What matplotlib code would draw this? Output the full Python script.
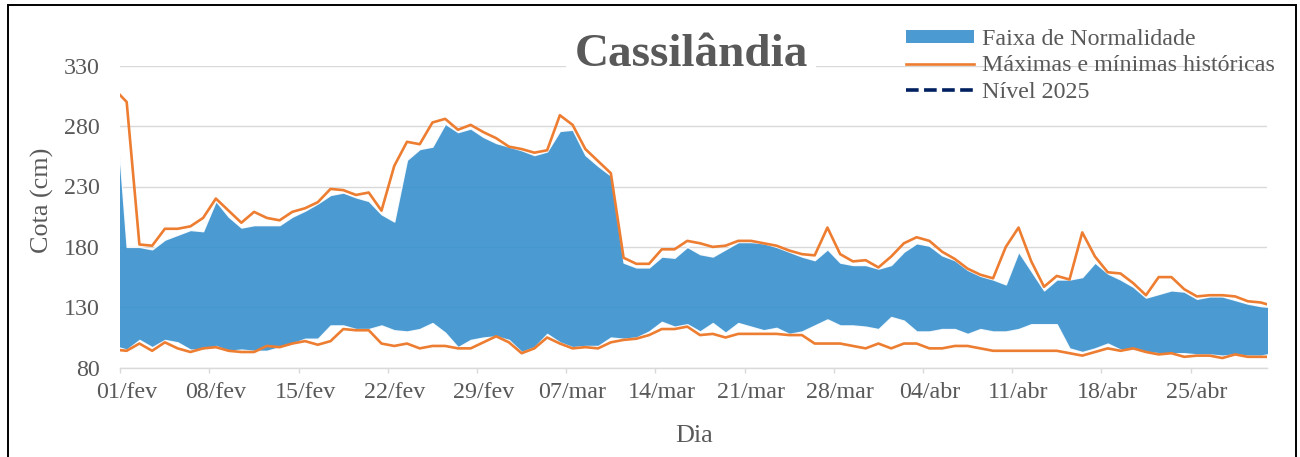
import matplotlib
matplotlib.use("Agg")
import matplotlib.pyplot as plt
from matplotlib.patches import Patch, Rectangle
from matplotlib.lines import Line2D
import numpy as np
import pandas as pd

plt.rcParams['font.family'] = ['Liberation Serif', 'DejaVu Serif']

# ---- data (31/jan .. 01/mai, 2024; axis shows 01/fev .. 30/abr) ----
dates = pd.date_range("2024-01-31", "2024-05-01", freq="D")

max_hist = [311,
    300, 182, 181, 195, 195, 197, 204, 220, 210, 200, 209, 204, 202, 209, 212,
    217, 228, 227, 223, 225, 210, 247, 267, 265, 283, 286, 277, 281, 275, 270,
    263, 261, 258, 260, 289, 281, 261, 251, 241, 171, 166, 166, 178, 178, 185,
    183, 180, 181, 185, 185, 183, 181, 177, 174, 173, 196, 174, 168, 169, 163,
    172, 183, 188, 185, 176, 170, 162, 157, 154, 180, 196, 168, 147, 156, 153,
    192, 172, 159, 158, 150, 140, 155, 155, 145, 139, 140, 140, 139, 135, 134,
    131]

faixa_sup = [315,
    180, 180, 178, 186, 190, 194, 193, 218, 205, 196, 198, 198, 198, 205, 210,
    216, 223, 225, 221, 218, 207, 201, 252, 261, 263, 282, 275, 278, 271, 266,
    263, 260, 256, 259, 276, 277, 256, 247, 239, 167, 163, 163, 172, 171, 180,
    174, 172, 178, 184, 184, 183, 180, 176, 172, 169, 178, 167, 165, 165, 162,
    165, 176, 183, 181, 173, 169, 161, 156, 153, 149, 176, 160, 144, 153, 153,
    155, 167, 158, 153, 147, 138, 141, 144, 143, 137, 139, 139, 136, 133, 131,
    130]

faixa_inf = [98,
    95, 103, 97, 103, 101, 95, 95, 98, 94, 95, 94, 94, 97, 100, 104,
    104, 115, 115, 112, 112, 115, 111, 110, 112, 117, 109, 97, 103, 105, 106,
    103, 93, 97, 108, 101, 97, 98, 98, 105, 104, 105, 110, 118, 114, 116,
    110, 117, 109, 117, 114, 111, 113, 108, 110, 115, 120, 115, 115, 114, 112,
    122, 119, 110, 110, 112, 112, 108, 112, 110, 110, 112, 116, 116, 116, 96,
    93, 96, 100, 95, 95, 93, 92, 92, 92, 91, 91, 90, 91, 90, 90,
    92]

min_hist = [95,
    94, 100, 94, 101, 96, 93, 96, 97, 94, 93, 93, 98, 97, 100, 102,
    99, 102, 112, 111, 111, 100, 98, 100, 96, 98, 98, 96, 96, 101, 106,
    101, 92, 96, 105, 100, 96, 97, 96, 101, 103, 104, 107, 112, 112, 114,
    107, 108, 105, 108, 108, 108, 108, 107, 107, 100, 100, 100, 98, 96, 100,
    96, 100, 100, 96, 96, 98, 98, 96, 94, 94, 94, 94, 94, 94, 92,
    90, 93, 96, 94, 96, 93, 91, 92, 89, 90, 90, 88, 91, 89, 89,
    89]

nivel_2025 = []  # no 2025 observations plotted

tick_labels = ["01/fev", "08/fev", "15/fev", "22/fev", "29/fev", "07/mar",
               "14/mar", "21/mar", "28/mar", "04/abr", "11/abr", "18/abr", "25/abr"]
y_ticks = [80, 130, 180, 230, 280, 330]

# ---- figure ----
W, H = 1300, 457
fig = plt.figure(figsize=(W / 100, H / 100), dpi=100)
L, R, T, B = 120.3, 1267, 65.7, 367.7
ax = fig.add_axes([L / W, 1 - B / H, (R - L) / W, (B - T) / H])

x = (dates - pd.Timestamp("2024-02-01")).days.values.astype(float)
n_days = 90

blue = (55 / 255, 144 / 255, 206 / 255)
orange = "#ED7D31"
grid_c = "#D9D9D9"
txt_c = "#595959"

ax.fill_between(x, faixa_inf, faixa_sup, facecolor=blue, alpha=0.9,
                edgecolor="white", linewidth=1.0, zorder=2)
ax.plot(x, max_hist, color=orange, lw=1.9, zorder=3, solid_joinstyle="round")
ax.plot(x, min_hist, color=orange, lw=1.9, zorder=3, solid_joinstyle="round")
ax.plot(x[:len(nivel_2025)], nivel_2025, color="#002060", lw=2, ls="--", zorder=4)

ax.set_xlim(-0.5, n_days - 0.5)
ax.set_ylim(80, 330)

ax.set_yticks(y_ticks)
ax.yaxis.grid(True, color=grid_c, lw=1.0, zorder=0)
ax.set_axisbelow(True)

ax.set_xticks(np.arange(0, n_days, 7)[:len(tick_labels)])
ax.set_xticklabels(tick_labels)
ax.set_xticks(np.arange(0, n_days, 7)[:len(tick_labels)] - 0.5, minor=True)
ax.tick_params(axis="x", which="major", length=0, pad=10, labelsize=17.3, labelcolor=txt_c)
ax.tick_params(axis="x", which="minor", length=3.8, width=1.0, color=grid_c)
ax.tick_params(axis="y", length=0, pad=15, labelsize=17.3, labelcolor=txt_c)

for s in ["left", "right", "top"]:
    ax.spines[s].set_visible(False)
ax.spines["bottom"].set_color(grid_c)
ax.spines["bottom"].set_linewidth(1.0)

# axis titles
fig.text(42 / W, 1 - 200 / H, "Cota (cm)", rotation=90, ha="center", va="center",
         fontsize=18.8, color=txt_c)
fig.text(694 / W, 1 - 441.5 / H, "Dia", ha="center", va="baseline",
         fontsize=18.8, color=txt_c)

# title with white box over gridline
fig.text(691 / W, 1 - 66 / H, "Cassilândia", ha="center", va="baseline",
         fontsize=34, fontweight="bold", color=txt_c,
         bbox=dict(facecolor="white", edgecolor="none", pad=6), zorder=5)

# legend
handles = [Patch(facecolor=blue, alpha=0.9, edgecolor="none"),
           Line2D([], [], color=orange, lw=1.9),
           Line2D([], [], color="#002060", lw=2.6, ls=(0, (3.5, 1.5)))]
labels = ["Faixa de Normalidade", "Máximas e mínimas históricas", "Nível 2025"]
leg = fig.legend(handles, labels, loc="upper left",
                 bbox_to_anchor=(906 / W, 1 - 29 / H), bbox_transform=fig.transFigure,
                 frameon=False, fontsize=17.3, handlelength=2.83, handleheight=0.5,
                 handletextpad=0.32, labelspacing=0.22, borderpad=0, borderaxespad=0)
for t in leg.get_texts():
    t.set_color(txt_c)

# outer frame
fig.add_artist(Rectangle((8 / W, -0.1), (1296 - 8) / W, 1 - 5.5 / H + 0.1,
                         transform=fig.transFigure, fill=False, ec="black", lw=1.4))

fig.savefig("out.png", dpi=100)
